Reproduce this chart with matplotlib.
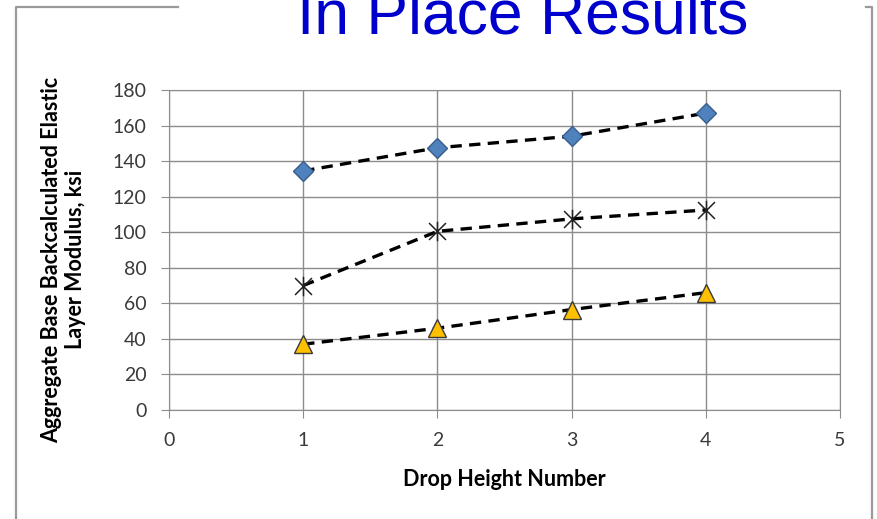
import matplotlib
matplotlib.use("Agg")
import matplotlib.pyplot as plt
from matplotlib.path import Path
from matplotlib.lines import Line2D

# drop height number vs. backcalculated modulus (ksi)
drops = [1, 2, 3, 4]
diamond_ksi = [134.5, 147.5, 154.0, 167.0]
star_ksi = [70.0, 100.5, 107.5, 112.5]
triangle_ksi = [37.0, 46.0, 56.5, 66.0]

title = "In Place Results"
xlabel = "Drop Height Number"
ylabel = "Aggregate Base Backcalculated Elastic\nLayer Modulus, ksi"

plt.rcParams['font.family'] = ['Lato', 'DejaVu Sans']

W, H = 877, 519
fig = plt.figure(figsize=(W / 100, H / 100), dpi=100)

# outer slide frame, open at the top where the title sits
frame_col = '#9a9a9a'
fig.add_artist(Line2D([16 / W, 16 / W, 178 / W], [0, 1 - 7 / H, 1 - 7 / H],
                      transform=fig.transFigure, color=frame_col, lw=1.6))
fig.add_artist(Line2D([866 / W, 872 / W, 872 / W], [1 - 7 / H, 1 - 7 / H, 0],
                      transform=fig.transFigure, color=frame_col, lw=1.6))

fig.text(523 / W, 1 - 33 / H, title, family='Liberation Sans', fontsize=45,
         color='#0000cc', ha='center', va='baseline')

ax = fig.add_axes([169 / W, 1 - 410 / H, (840 - 169) / W, 320 / H])

# Excel-style star: an X with a vertical stroke
star = Path([(-1, -1), (1, 1), (-1, 1), (1, -1), (0, -1.15), (0, 1.15)],
            [Path.MOVETO, Path.LINETO, Path.MOVETO, Path.LINETO,
             Path.MOVETO, Path.LINETO])

dash = dict(color='black', lw=2.4, ls=(0, (3.4, 2.2)), zorder=3)
ax.plot(drops, diamond_ksi, marker='D', ms=10, mfc='#4f81bd', mec='#385d8a',
        mew=1, **dash)
ax.plot(drops, star_ksi, marker=star, ms=14, mfc='none', mec='#222222',
        mew=1.1, **dash)
ax.plot(drops, triangle_ksi, marker='^', ms=13, mfc='#ffc000', mec='#3a3a3a',
        mew=1, **dash)

ax.set_xlim(0, 5)
ax.set_ylim(0, 180)
ax.set_xticks(range(0, 6))
ax.set_yticks(range(0, 181, 20))
ax.grid(True, color='#8c8c8c', lw=1)
ax.set_axisbelow(True)
for s in ax.spines.values():
    s.set_color('#8c8c8c')
ax.tick_params(colors='#8c8c8c', length=6, labelcolor='#3a3a3a',
               labelsize=14)
ax.tick_params(axis='y', pad=10)
ax.tick_params(axis='x', pad=10)

ax.set_xlabel(xlabel, fontsize=15.5, fontweight='bold', labelpad=14)
ax.set_ylabel(ylabel, fontsize=15.5, fontweight='bold', linespacing=1.15)
ax.yaxis.set_label_coords(-0.124, 0.47)

fig.savefig('out.png', dpi=100)
